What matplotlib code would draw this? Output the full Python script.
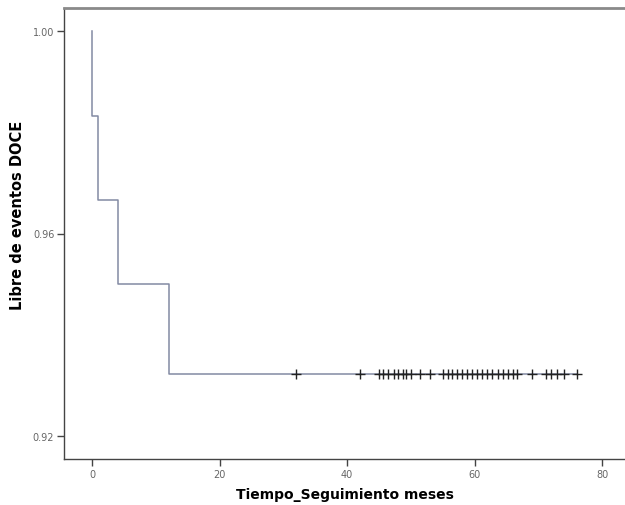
import matplotlib
matplotlib.use("Agg")
import matplotlib.pyplot as plt
from matplotlib.ticker import FormatStrFormatter

# Kaplan-Meier step curve (time in months, survival proportion)
step_times = [0, 0, 1, 4, 12, 76]
step_surv = [1.0, 0.9833, 0.9667, 0.95, 0.9322, 0.9322]

# Censored observations (all at the final plateau)
censor_times = [32, 42, 45, 45.7, 46.5, 47.3, 48, 48.7, 49.3, 50, 51.5, 53,
                55, 55.8, 56.5, 57.3, 58, 58.8, 59.6, 60.4, 61.2, 62, 62.8,
                63.6, 64.4, 65.2, 66, 66.7, 69, 71.2, 72, 73, 74, 76]
censor_surv = 0.9322

x_ticks = [0, 20, 40, 60, 80]
y_ticks = [0.92, 0.96, 1.00]

fig = plt.figure(figsize=(6.25, 5.06), dpi=100)
ax = fig.add_axes([64/625, 46/506, 561/625, 451/506])

ax.plot(step_times, step_surv, drawstyle="steps-post", color="#838aa3", lw=1.1)
ax.plot(censor_times, [censor_surv]*len(censor_times), linestyle="none",
        marker="+", markersize=7, mew=1.0, color="#222222")

ax.set_xlim(-4.4, 83.6)
ax.set_ylim(0.91545, 1.00455)
ax.set_xticks(x_ticks)
ax.set_yticks(y_ticks)
ax.yaxis.set_major_formatter(FormatStrFormatter("%.2f"))

ax.tick_params(axis="both", direction="out", length=5, width=1, color="#444444",
               labelsize=7, labelcolor="#666666", pad=2)

for side in ("left", "bottom"):
    ax.spines[side].set_color("#444444")
    ax.spines[side].set_linewidth(1.0)
ax.spines["top"].set_color("#8a8a8a")
ax.spines["top"].set_linewidth(2.0)
ax.spines["right"].set_visible(False)

ax.set_xlabel("Tiempo_Seguimiento meses", fontsize=10, fontweight="bold",
              family="DejaVu Sans")
ax.xaxis.label.set_va("center")
ax.xaxis.set_label_coords(0.5, (460 - 495) / 451)

ax.set_ylabel("Libre de eventos DOCE", fontsize=10.5, fontweight="bold",
              family="DejaVu Sans")
ax.yaxis.label.set_va("center")
ax.yaxis.set_label_coords((18 - 64) / 561, (460 - 215) / 451)

fig.savefig("out.png", dpi=100)
